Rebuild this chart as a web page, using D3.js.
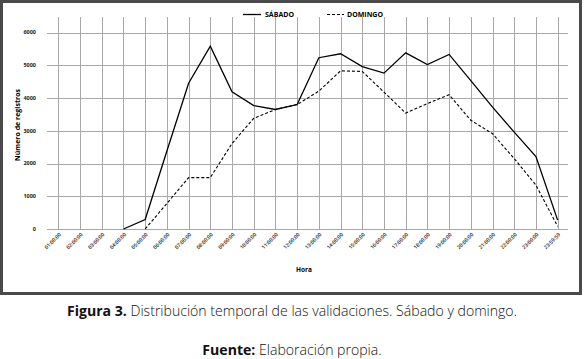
<!DOCTYPE html>
<html><head><meta charset="utf-8">
<script src="https://cdn.jsdelivr.net/npm/d3@7"></script>
<style>body{margin:0;background:#fff}svg{display:block}</style>
</head><body>
<script>
const categories = ["01:00:00","02:00:00","03:00:00","04:00:00","05:00:00","06:00:00","07:00:00","08:00:00","09:00:00","10:00:00","11:00:00","12:00:00","13:00:00","14:00:00","15:00:00","16:00:00","17:00:00","18:00:00","19:00:00","20:00:00","21:00:00","22:00:00","23:00:00","23:59:59"];
const sabado  = [null,null,null,0,290,2380,4450,5580,4190,3770,3650,3800,5230,5350,4960,4760,5380,5020,5330,4530,3720,2960,2210,270];
const domingo = [null,null,null,null,0,780,1570,1570,2610,3380,3650,3800,4210,4830,4810,4180,3540,3830,4100,3320,2910,2150,1340,80];
const yTicks = [0,1000,2000,3000,4000,5000,6000];
const seriesNames = ["SÁBADO","DOMINGO"];

const W=584,H=359;
const svg=d3.select("body").append("svg").attr("width",W).attr("height",H);
svg.append("rect").attr("width",W).attr("height",H).attr("fill","#fff");
svg.append("rect").attr("x",1.5).attr("y",1.5).attr("width",579).attr("height",292)
  .attr("fill","none").attr("stroke","#4a4a4a").attr("stroke-width",3);

const x=d3.scalePoint().domain(categories).range([47.5,568.5]).padding(0.5);
const y=d3.scaleLinear().domain([0,6000]).range([229,32.5]);
const plotTop=17;
const grid="#a8a8a8";
const g=svg.append("g");
g.selectAll(".hg").data(yTicks).join("line")
  .attr("x1",47).attr("x2",568).attr("y1",d=>Math.round(y(d))+0.5).attr("y2",d=>Math.round(y(d))+0.5)
  .attr("stroke",grid).attr("stroke-width",1);
g.selectAll(".vg").data(categories).join("line")
  .attr("x1",d=>Math.round(x(d))+0.5).attr("x2",d=>Math.round(x(d))+0.5)
  .attr("y1",plotTop).attr("y2",y(0))
  .attr("stroke",grid).attr("stroke-width",1);

g.selectAll(".yl").data(yTicks).join("text")
  .attr("x",36).attr("y",d=>y(d)).attr("dy","0.35em").attr("text-anchor","end")
  .attr("font-family","Open Sans").attr("font-weight",700).attr("font-size",5.5).attr("fill","#222")
  .text(d=>d);
g.selectAll(".xl").data(categories).join("text")
  .attr("transform",d=>`translate(${x(d)+3},${y(0)+6}) rotate(-45)`)
  .attr("text-anchor","end")
  .attr("font-family","Open Sans").attr("font-weight",600).attr("font-size",5.2).attr("fill","#222")
  .text(d=>d);

const line=d3.line().defined(d=>d.v!=null).x(d=>x(d.c)).y(d=>y(d.v));
const mk=arr=>categories.map((c,i)=>({c,v:arr[i]}));
g.append("path").datum(mk(sabado)).attr("d",line).attr("fill","none").attr("stroke","#000").attr("stroke-width",1.3);
g.append("path").datum(mk(domingo)).attr("d",line).attr("fill","none").attr("stroke","#000").attr("stroke-width",1.1).attr("stroke-dasharray","3,2");

const lg=svg.append("g").attr("font-family","Open Sans").attr("font-weight",700).attr("font-size",7).attr("fill","#000");
lg.append("line").attr("x1",243).attr("x2",261).attr("y1",14.5).attr("y2",14.5).attr("stroke","#000").attr("stroke-width",1.3);
lg.append("text").attr("x",265).attr("y",17).text(seriesNames[0]);
lg.append("line").attr("x1",327).attr("x2",344).attr("y1",14.5).attr("y2",14.5).attr("stroke","#000").attr("stroke-width",1.1).attr("stroke-dasharray","3,2");
lg.append("text").attr("x",347).attr("y",17).text(seriesNames[1]);

svg.append("text").attr("x",304).attr("y",272).attr("text-anchor","middle")
  .attr("font-family","Open Sans").attr("font-weight",700).attr("font-size",6.5).text("Hora");
svg.append("text").attr("transform","translate(20,125) rotate(-90)").attr("text-anchor","middle")
  .attr("font-family","Open Sans").attr("font-weight",700).attr("font-size",7).text("Número de registros");

// captions: same font, same horizontal compression
const c1=svg.append("text").attr("x",292).attr("y",316).attr("text-anchor","middle")
  .attr("font-family","Open Sans").attr("font-size",14).attr("fill","#111");
c1.append("tspan").attr("font-weight",700).text("Figura 3.");
c1.append("tspan").attr("font-weight",300).text(" Distribución temporal de las validaciones. Sábado y domingo.");
const c2=svg.append("text").attr("x",292).attr("y",355).attr("text-anchor","middle")
  .attr("font-family","Open Sans").attr("font-size",14).attr("fill","#111");
c2.append("tspan").attr("font-weight",700).text("Fuente:");
c2.append("tspan").attr("font-weight",300).text(" Elaboración propia.");
const n1=c1.node().getComputedTextLength();
const k=450/n1;
c1.attr("textLength",450).attr("lengthAdjust","spacingAndGlyphs");
const n2=c2.node().getComputedTextLength();
c2.attr("textLength",n2*k).attr("lengthAdjust","spacingAndGlyphs");
</script>
</body></html>
